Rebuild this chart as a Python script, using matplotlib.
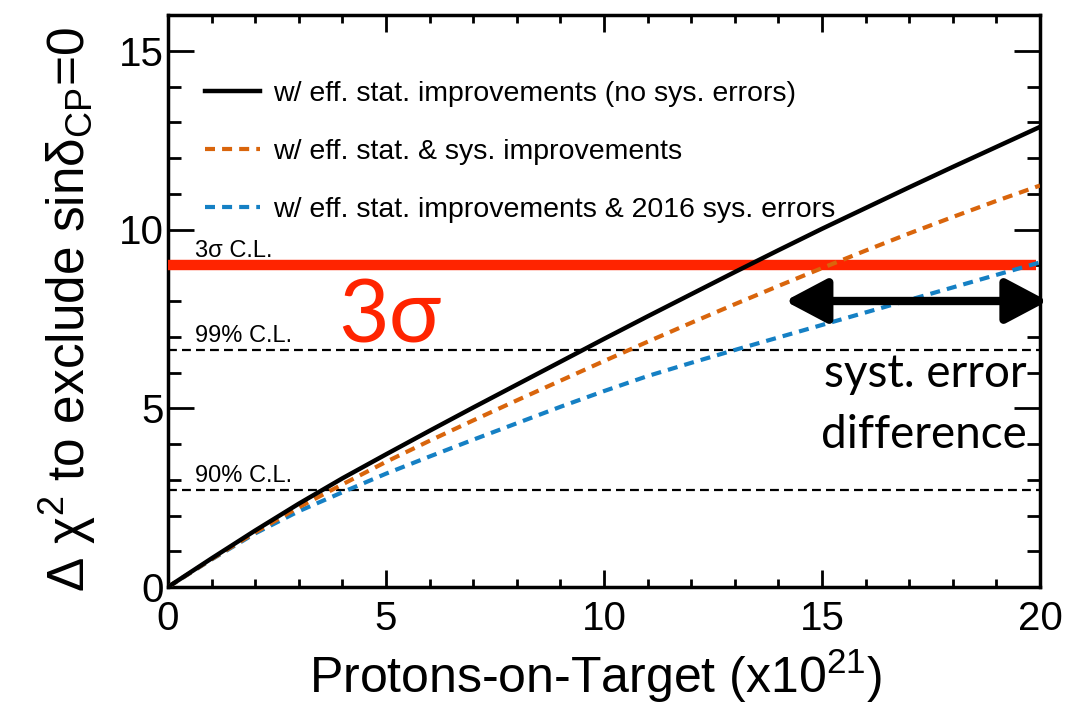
import matplotlib
matplotlib.use("Agg")
import matplotlib.pyplot as plt
from matplotlib.ticker import MultipleLocator
from matplotlib.lines import Line2D

# ---- data ----
pot = [0, 1, 2, 3, 4, 5, 6, 7, 8, 9, 10, 11, 12, 13, 14, 15, 16, 17, 18, 19, 20]
no_sys = [0, 0.80, 1.58, 2.33, 3.04, 3.71, 4.37, 5.02, 5.66, 6.30, 6.94, 7.57, 8.19,
          8.81, 9.42, 10.02, 10.60, 11.18, 11.75, 12.31, 12.87]
sys_impr = [0, 0.78, 1.53, 2.23, 2.87, 3.50, 4.09, 4.66, 5.22, 5.77, 6.32, 6.86, 7.39,
            7.91, 8.42, 8.92, 9.41, 9.89, 10.35, 10.80, 11.23]
sys_2016 = [0, 0.77, 1.50, 2.12, 2.65, 3.17, 3.65, 4.12, 4.58, 5.04, 5.48, 5.90, 6.27,
            6.63, 6.98, 7.33, 7.68, 8.03, 8.38, 8.73, 9.08]
labels = ["w/ eff. stat. improvements (no sys. errors)",
          "w/ eff. stat. & sys. improvements",
          "w/ eff. stat. improvements & 2016 sys. errors"]
cl_levels = [9.0, 6.63, 2.71]
cl_labels = ["3\u03c3 C.L.", "99% C.L.", "90% C.L."]
arrow_range = [14.15, 20.18]
arrow_y = 8.0

plt.rcParams['font.family'] = ['Liberation Sans', 'DejaVu Sans']
plt.rcParams['mathtext.fontset'] = 'custom'
plt.rcParams['mathtext.rm'] = 'Liberation Sans'
plt.rcParams['mathtext.it'] = 'Liberation Sans:italic'
plt.rcParams['mathtext.bf'] = 'Liberation Sans:bold'

W, H = 1088, 713
fig = plt.figure(figsize=(W / 100, H / 100), dpi=100)
ax = fig.add_axes([168 / W, 1 - 587 / H, (1040 - 168) / W, (587 - 15) / H])

ax.set_xlim(0, 20)
ax.set_ylim(0, 16)

# C.L. lines
ax.plot([0, 20], [cl_levels[1]] * 2, color='black', lw=1.6, dashes=(4, 2.3), zorder=2)
ax.plot([0, 20], [cl_levels[2]] * 2, color='black', lw=1.6, dashes=(4, 2.3), zorder=2)
ax.plot([0, 19.9], [cl_levels[0]] * 2, color='#ff2400', lw=7.5, solid_capstyle='butt', zorder=3)

ax.text(0.62, 9.24, cl_labels[0], fontsize=17, ha='left', va='baseline')
ax.text(0.62, 6.85, cl_labels[1], fontsize=17, ha='left', va='baseline')
ax.text(0.62, 2.93, cl_labels[2], fontsize=17, ha='left', va='baseline')

# curves
orange = '#d9650c'
blue = '#1580c4'
ax.plot(pot, sys_2016, color=blue, lw=3, dashes=(2.4, 1.7), zorder=4)
ax.plot(pot, sys_impr, color=orange, lw=3, dashes=(2.4, 1.7), zorder=5)
ax.plot(pot, no_sys, color='black', lw=3.2, zorder=6)

handles = [Line2D([], [], color='black', lw=3.2),
           Line2D([], [], color=orange, lw=3, dashes=(2.4, 1.7)),
           Line2D([], [], color=blue, lw=3, dashes=(2.4, 1.7))]
leg = ax.legend(handles, labels, loc='upper left', bbox_to_anchor=(0.042, 0.885),
                frameon=False, fontsize=20.5, handlelength=1.95, handletextpad=0.45,
                labelspacing=1.12, borderaxespad=0, borderpad=0)

# annotations
ax.text(3.9, 6.85, "3\u03c3", fontsize=63, color='#ff2400', family=['Lato', 'DejaVu Sans'],
        ha='left', va='baseline', zorder=7)
ax.text(19.7, 5.59, "syst. error", fontsize=33, family=['Lato', 'DejaVu Sans'],
        ha='right', va='baseline', zorder=7)
ax.text(19.7, 3.9, "difference", fontsize=33, family=['Lato', 'DejaVu Sans'],
        ha='right', va='baseline', zorder=7)
ax.annotate('', xy=(arrow_range[1], arrow_y), xytext=(arrow_range[0], arrow_y),
            arrowprops=dict(arrowstyle='<|-|>,head_length=0.85,head_width=0.45',
                            lw=6, color='black', mutation_scale=30,
                            shrinkA=0, shrinkB=0),
            annotation_clip=False, zorder=8)

# axes styling
ax.xaxis.set_major_locator(MultipleLocator(5))
ax.xaxis.set_minor_locator(MultipleLocator(1))
ax.yaxis.set_major_locator(MultipleLocator(5))
ax.yaxis.set_minor_locator(MultipleLocator(1))
ax.tick_params(axis='both', which='both', direction='in', top=True, right=True, width=2)
ax.tick_params(axis='x', which='major', length=12, labelsize=29, pad=9)
ax.tick_params(axis='x', which='minor', length=6)
ax.tick_params(axis='y', which='major', length=19, labelsize=29, pad=3)
ax.tick_params(axis='y', which='minor', length=9.5)
for s in ax.spines.values():
    s.set_linewidth(2.5)

ax.set_xlabel("Protons-on-Target (x10$^{21}$)", fontsize=36)
ax.xaxis.set_label_coords(0.49, -0.105)
ax.xaxis.label.set_va('top')
fig.text(68 / W, 1 - 310 / H, "\u0394 \u03c7$^{2}$ to exclude sin\u03b4$_{\\mathrm{CP}}$=0",
         fontsize=37, rotation=90, ha='center', va='center')

fig.savefig("out.png", dpi=100)
